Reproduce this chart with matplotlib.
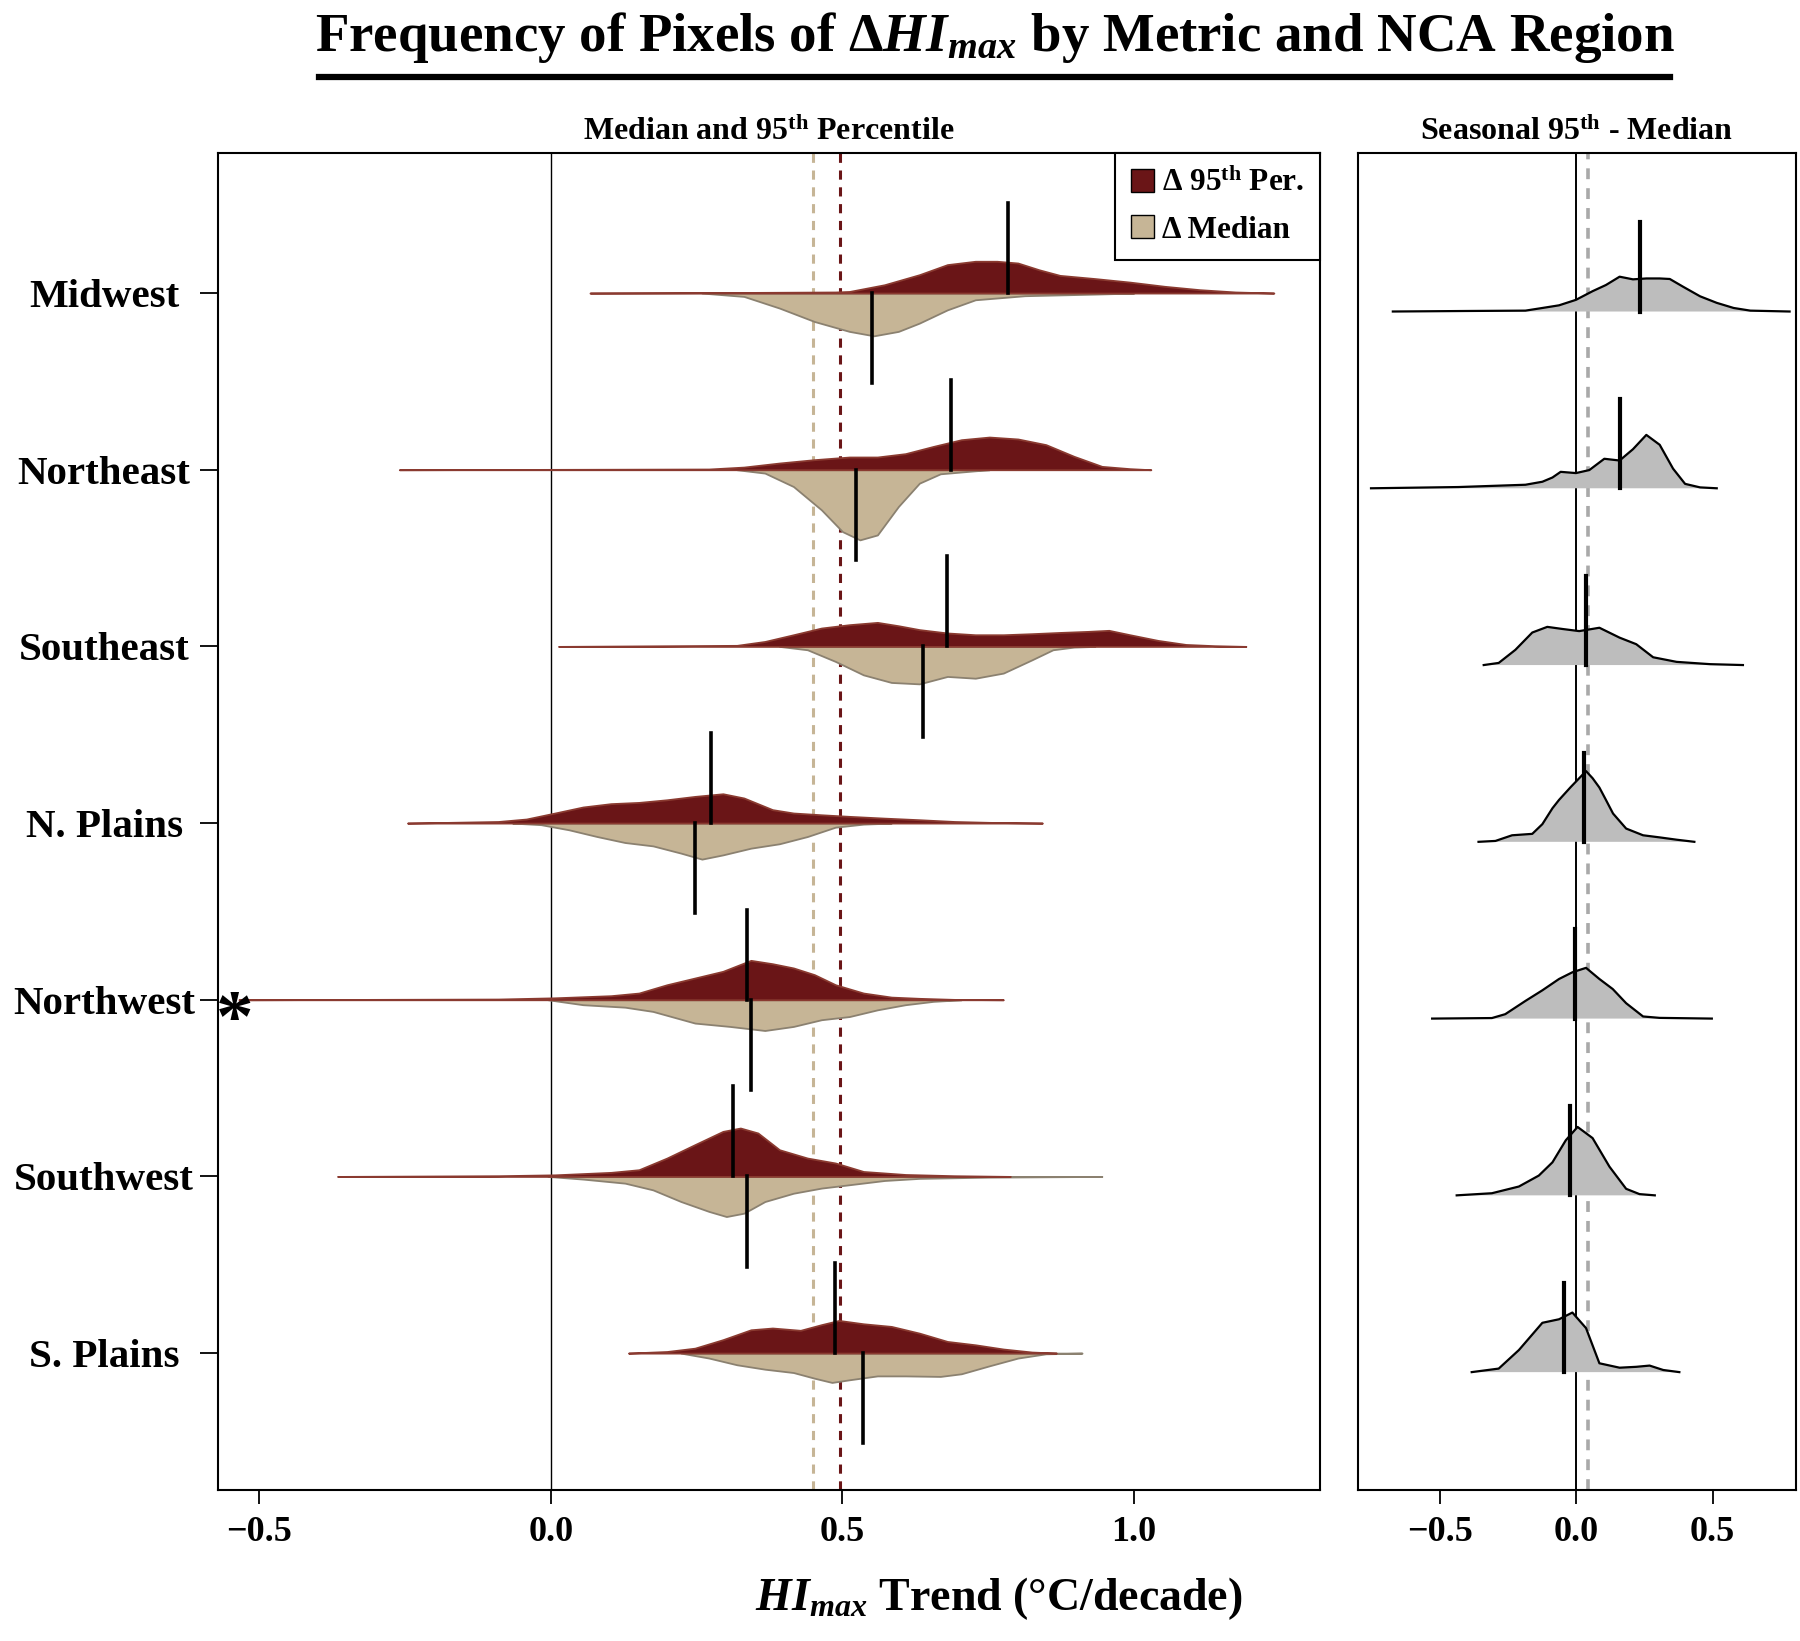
import numpy as np
import matplotlib
matplotlib.use('Agg')
import matplotlib.pyplot as plt
from matplotlib.patches import Patch
from matplotlib.lines import Line2D

# NCA regions, top to bottom
regions = ['Midwest', 'Northeast', 'Southeast', 'N. Plains', 'Northwest', 'Southwest', 'S. Plains']

# 左图: (trend, density height) pairs
# upper half = delta 95th percentile, lower half = delta median
midwest_p95 = [(0.067, 0), (0.25, 0.002), (0.488, 0.006), (0.512, 0.009), (0.572, 0.047), (0.632, 0.104),
               (0.680, 0.161), (0.728, 0.180), (0.765, 0.180), (0.801, 0.170), (0.837, 0.132), (0.873, 0.100),
               (0.933, 0.082), (0.993, 0.062), (1.053, 0.038), (1.113, 0.019), (1.174, 0.006), (1.240, 0)]
midwest_med = [(0.259, 0), (0.331, 0.019), (0.392, 0.085), (0.452, 0.161), (0.512, 0.217), (0.554, 0.242),
               (0.596, 0.217), (0.632, 0.170), (0.680, 0.095), (0.728, 0.038), (0.813, 0.015), (0.933, 0.006),
               (1.0, 0)]

northeast_p95 = [(-0.260, 0), (0.0, 0.002), (0.271, 0.004), (0.331, 0.015), (0.392, 0.038), (0.452, 0.057),
                 (0.512, 0.072), (0.560, 0.072), (0.608, 0.091), (0.656, 0.132), (0.704, 0.170), (0.752, 0.185),
                 (0.801, 0.174), (0.849, 0.142), (0.897, 0.076), (0.945, 0.019), (0.993, 0.006), (1.029, 0)]
northeast_med = [(0.319, 0), (0.367, 0.019), (0.416, 0.095), (0.464, 0.227), (0.500, 0.350), (0.530, 0.397),
                 (0.560, 0.369), (0.596, 0.208), (0.632, 0.076), (0.668, 0.023), (0.728, 0.006), (0.752, 0)]

southeast_p95 = [(0.013, 0), (0.319, 0.006), (0.367, 0.028), (0.416, 0.066), (0.464, 0.104), (0.512, 0.123),
                 (0.560, 0.136), (0.596, 0.117), (0.632, 0.095), (0.680, 0.076), (0.728, 0.066), (0.776, 0.066),
                 (0.825, 0.072), (0.873, 0.079), (0.921, 0.085), (0.957, 0.091), (0.993, 0.066), (1.041, 0.034),
                 (1.089, 0.011), (1.138, 0.004), (1.192, 0)]
southeast_med = [(0.392, 0), (0.440, 0.019), (0.488, 0.085), (0.536, 0.161), (0.584, 0.204), (0.632, 0.212),
                 (0.680, 0.170), (0.728, 0.180), (0.776, 0.151), (0.825, 0.076), (0.861, 0.019), (0.897, 0.004),
                 (0.933, 0)]

nplains_p95 = [(-0.246, 0), (-0.174, 0.004), (-0.090, 0.009), (-0.042, 0.023), (0.007, 0.057), (0.055, 0.091),
               (0.103, 0.110), (0.151, 0.117), (0.199, 0.132), (0.247, 0.151), (0.295, 0.166), (0.331, 0.142),
               (0.380, 0.076), (0.416, 0.057), (0.464, 0.047), (0.512, 0.038), (0.572, 0.028), (0.632, 0.019),
               (0.692, 0.009), (0.752, 0.004), (0.843, 0)]
nplains_med = [(-0.066, 0), (-0.017, 0.009), (0.031, 0.038), (0.079, 0.076), (0.127, 0.110), (0.175, 0.129),
               (0.223, 0.170), (0.259, 0.204), (0.295, 0.180), (0.343, 0.142), (0.392, 0.117), (0.440, 0.076),
               (0.488, 0.023), (0.536, 0.006), (0.584, 0)]

northwest_p95 = [(-0.535, 0), (-0.090, 0.004), (0.007, 0.011), (0.103, 0.023), (0.151, 0.038), (0.199, 0.085),
                 (0.247, 0.123), (0.295, 0.161), (0.343, 0.223), (0.380, 0.204), (0.416, 0.180), (0.452, 0.142),
                 (0.488, 0.085), (0.536, 0.038), (0.584, 0.015), (0.632, 0.008), (0.692, 0.002), (0.776, 0)]
northwest_med = [(-0.005, 0), (0.055, 0.028), (0.127, 0.042), (0.175, 0.066), (0.247, 0.132), (0.307, 0.151),
                 (0.367, 0.174), (0.416, 0.151), (0.464, 0.113), (0.512, 0.095), (0.560, 0.057), (0.608, 0.028),
                 (0.656, 0.009), (0.704, 0)]

southwest_p95 = [(-0.366, 0), (-0.090, 0.004), (0.007, 0.009), (0.103, 0.023), (0.151, 0.038), (0.199, 0.104),
                 (0.247, 0.180), (0.295, 0.255), (0.325, 0.274), (0.355, 0.246), (0.392, 0.151), (0.440, 0.104),
                 (0.488, 0.076), (0.536, 0.028), (0.608, 0.011), (0.692, 0.004), (0.788, 0)]
southwest_med = [(-0.005, 0), (0.055, 0.015), (0.127, 0.038), (0.175, 0.076), (0.223, 0.142), (0.271, 0.198),
                 (0.301, 0.227), (0.331, 0.208), (0.367, 0.142), (0.416, 0.095), (0.464, 0.066), (0.512, 0.047),
                 (0.572, 0.023), (0.632, 0.011), (0.752, 0.004), (0.945, 0)]

splains_p95 = [(0.133, 0), (0.199, 0.009), (0.247, 0.028), (0.295, 0.076), (0.343, 0.132), (0.380, 0.142),
               (0.428, 0.129), (0.464, 0.161), (0.494, 0.185), (0.536, 0.166), (0.584, 0.151), (0.632, 0.113),
               (0.680, 0.066), (0.728, 0.047), (0.776, 0.023), (0.825, 0.006), (0.867, 0)]
splains_med = [(0.223, 0), (0.271, 0.028), (0.319, 0.066), (0.367, 0.091), (0.416, 0.110), (0.452, 0.142),
               (0.482, 0.166), (0.512, 0.151), (0.560, 0.129), (0.608, 0.129), (0.668, 0.132), (0.704, 0.117),
               (0.752, 0.072), (0.801, 0.028), (0.849, 0.004), (0.911, 0)]

p95_curves = [midwest_p95, northeast_p95, southeast_p95, nplains_p95, northwest_p95, southwest_p95, splains_p95]
med_curves = [midwest_med, northeast_med, southeast_med, nplains_med, northwest_med, southwest_med, splains_med]

# 中位数竖线
p95_medians = [0.784, 0.687, 0.680, 0.275, 0.337, 0.313, 0.488]
med_medians = [0.550, 0.524, 0.639, 0.247, 0.343, 0.336, 0.535]
p95_overall = 0.495
med_overall = 0.45

# 右图: seasonal 95th - median
midwest_diff = [(-0.672, 0), (-0.40, 0.003), (-0.186, 0.005), (-0.124, 0.020), (-0.063, 0.035), (-0.001, 0.066),
                (0.060, 0.115), (0.109, 0.150), (0.159, 0.197), (0.208, 0.182), (0.257, 0.187), (0.306, 0.187),
                (0.343, 0.184), (0.392, 0.140), (0.454, 0.086), (0.515, 0.049), (0.577, 0.020), (0.638, 0.005),
                (0.782, 0)]
northeast_diff = [(-0.752, 0), (-0.432, 0.007), (-0.186, 0.020), (-0.124, 0.037), (-0.087, 0.061), (-0.057, 0.093),
                  (-0.001, 0.086), (0.048, 0.103), (0.103, 0.167), (0.159, 0.157), (0.208, 0.221), (0.257, 0.302),
                  (0.306, 0.246), (0.355, 0.111), (0.399, 0.025), (0.454, 0.005), (0.515, 0)]
southeast_diff = [(-0.339, 0), (-0.284, 0.012), (-0.223, 0.086), (-0.161, 0.184), (-0.106, 0.216), (-0.050, 0.204),
                  (0.011, 0.192), (0.085, 0.211), (0.159, 0.155), (0.220, 0.118), (0.282, 0.044), (0.368, 0.018),
                  (0.491, 0.005), (0.611, 0)]
nplains_diff = [(-0.358, 0), (-0.296, 0.005), (-0.235, 0.037), (-0.161, 0.045), (-0.124, 0.10), (-0.087, 0.19),
                (-0.063, 0.237), (-0.02, 0.31), (0.036, 0.40), (0.06, 0.36), (0.085, 0.307), (0.109, 0.237),
                (0.135, 0.16), (0.183, 0.075), (0.245, 0.037), (0.306, 0.025), (0.368, 0.012), (0.433, 0)]
northwest_diff = [(-0.528, 0), (-0.309, 0.003), (-0.260, 0.025), (-0.186, 0.10), (-0.124, 0.16), (-0.063, 0.224),
                  (-0.014, 0.262), (0.036, 0.287), (0.085, 0.224), (0.134, 0.167), (0.183, 0.087), (0.245, 0.012),
                  (0.306, 0.004), (0.497, 0)]
southwest_diff = [(-0.438, 0), (-0.309, 0.012), (-0.210, 0.050), (-0.137, 0.112), (-0.087, 0.187), (-0.038, 0.312),
                  (0.005, 0.387), (0.060, 0.324), (0.122, 0.162), (0.183, 0.037), (0.232, 0.007), (0.288, 0)]
splains_diff = [(-0.383, 0), (-0.284, 0.020), (-0.210, 0.125), (-0.124, 0.279), (-0.063, 0.299), (-0.014, 0.337),
                (0.036, 0.249), (0.085, 0.050), (0.159, 0.025), (0.220, 0.030), (0.269, 0.037), (0.319, 0.012),
                (0.378, 0)]

diff_curves = [midwest_diff, northeast_diff, southeast_diff, nplains_diff, northwest_diff, southwest_diff, splains_diff]
diff_medians = [0.232, 0.161, 0.036, 0.030, -0.004, -0.022, -0.046]
diff_overall = 0.045

RED = '#6a1517'
TAN = '#c6b596'
TAN_EDGE = '#8b8170'
GREY = '#bdbdbd'

plt.rcParams['font.family'] = ['Liberation Serif', 'DejaVu Serif']
plt.rcParams['font.weight'] = 'bold'
plt.rcParams['mathtext.fontset'] = 'custom'
plt.rcParams['mathtext.rm'] = 'Liberation Serif:bold'
plt.rcParams['mathtext.bf'] = 'Liberation Serif:bold'
plt.rcParams['mathtext.it'] = 'Liberation Serif:italic'
plt.rcParams['mathtext.bfit'] = 'Liberation Serif:bold:italic'


def split(pts):
    xs = np.array([p[0] for p in pts])
    hs = np.array([p[1] for p in pts])
    return xs, hs


# 左图: 上下对称的密度
def plot_left(ax):
    ys = np.arange(len(regions), 0, -1)
    ax.axvline(0, color='black', lw=1.0, zorder=1)
    ax.axvline(med_overall, color=TAN, lw=2.2, ls=(0, (3, 2.5)), zorder=1)
    ax.axvline(p95_overall, color=RED, lw=2.2, ls=(0, (3, 2.5)), zorder=1)

    for y, up, down, m95, mmed in zip(ys, p95_curves, med_curves, p95_medians, med_medians):
        x, h = split(down)
        ax.fill_between(x, y - h, y, facecolor=TAN, edgecolor=TAN_EDGE, lw=1.3, zorder=2)
        x, h = split(up)
        ax.fill_between(x, y, y + h, facecolor=RED, edgecolor='#8a3a30', lw=1.3, zorder=3)
        ax.plot([m95, m95], [y, y + 0.51], color='black', lw=2.6, zorder=4)
        ax.plot([mmed, mmed], [y - 0.51, y], color='black', lw=2.6, zorder=4)

    # 星号标注 Northwest
    ax.text(-0.543, ys[4] - 0.13, '*', fontsize=54, ha='center', va='center', zorder=5)

    ax.set_xlim(-0.571, 1.319)
    ax.set_ylim(0.225, 7.794)
    ax.set_xticks([-0.5, 0.0, 0.5, 1.0])
    ax.set_xticklabels(['\u22120.5', '0.0', '0.5', '1.0'])
    ax.set_yticks(ys)
    ax.set_yticklabels(regions)
    for lab in ax.get_yticklabels():
        lab.set_horizontalalignment('center')
    ax.tick_params(axis='x', length=10, width=1.3, pad=9, labelsize=26)
    ax.tick_params(axis='y', length=13, width=1.3, pad=69, labelsize=29.5)
    ax.set_title(r'Median and 95$^{\mathbf{th}}$ Percentile', fontsize=23, fontweight='bold', pad=9)

    handles = [Patch(facecolor=RED, edgecolor='black', label=r'Δ 95$^{\mathbf{th}}$ Per.'),
               Patch(facecolor=TAN, edgecolor='black', label='Δ Median')]
    leg = ax.legend(handles=handles, loc='upper right', bbox_to_anchor=(1, 1), borderaxespad=0,
                    fancybox=False, edgecolor='black', framealpha=1, fontsize=22.5,
                    handlelength=0.75, handleheight=0.75, handletextpad=0.25,
                    borderpad=0.5, labelspacing=0.55)
    leg.get_frame().set_linewidth(1.5)


# 右图: 季节差值密度
def plot_right(ax):
    ys = np.arange(len(regions), 0, -1)
    ax.axvline(0, color='black', lw=1.4, zorder=1)
    ax.axvline(diff_overall, color='#a9a9a9', lw=2.6, ls=(0, (3, 2.5)), zorder=1)
    for y, pts, md in zip(ys, diff_curves, diff_medians):
        x, h = split(pts)
        ax.fill_between(x, y, y + h, facecolor=GREY, edgecolor='none', zorder=2)
        ax.plot(x, y + h, color='black', lw=1.6, zorder=3)
        ax.plot([md, md], [y, y + 0.505], color='black', lw=3.0, zorder=4)

    ax.set_xlim(-0.80, 0.805)
    ax.set_ylim(0.333, 7.898)
    ax.set_xticks([-0.5, 0.0, 0.5])
    ax.set_xticklabels(['\u22120.5', '0.0', '0.5'])
    ax.set_yticks([])
    ax.tick_params(axis='x', length=10, width=1.3, pad=9, labelsize=26)
    ax.set_title(r'Seasonal 95$^{\mathbf{th}}$ - Median', fontsize=23, fontweight='bold', pad=9)


def main():
    fig = plt.figure(figsize=(18, 16.41), dpi=100)
    ax_left = fig.add_axes([0.1211, 0.0920, 0.6122, 0.8149])
    ax_right = fig.add_axes([0.7544, 0.0920, 0.2433, 0.8149])
    for ax in (ax_left, ax_right):
        for sp in ax.spines.values():
            sp.set_linewidth(1.5)

    plot_left(ax_left)
    plot_right(ax_right)

    fig.text(0.5527, 0.977, r'Frequency of Pixels of Δ$\mathbfit{HI}_{\mathit{max}}$ by Metric and NCA Region',
             ha='center', va='center', fontsize=39.5)
    fig.add_artist(Line2D([0.1773, 0.928], [0.953, 0.953], color='black', lw=4.5,
                          transform=fig.transFigure))
    fig.text(0.555, 0.026, r'$\mathbfit{HI}_{\mathit{max}}$ Trend (°C/decade)',
             ha='center', va='center', fontsize=33)

    fig.savefig('out.png', dpi=100)


if __name__ == '__main__':
    main()
